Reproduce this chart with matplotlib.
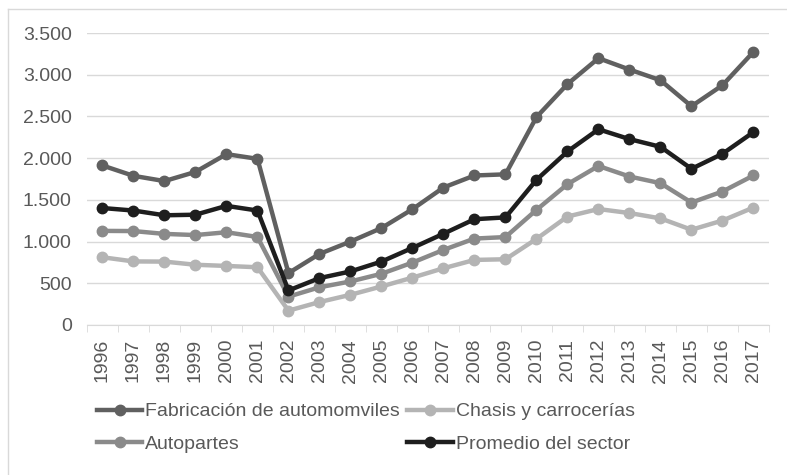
import matplotlib.pyplot as plt
from matplotlib.lines import Line2D

plt.rcParams['font.family'] = ['Liberation Sans', 'DejaVu Sans']

years = [str(y) for y in range(1996, 2018)]

fabricacion = [1912, 1788, 1725, 1835, 2048, 1992, 622, 852, 1000, 1162, 1388, 1648, 1792, 1806,
               2492, 2888, 3198, 3062, 2934, 2622, 2874, 3274]
chasis = [812, 762, 760, 722, 708, 692, 172, 275, 362, 462, 568, 680, 780, 788,
          1032, 1300, 1390, 1342, 1278, 1142, 1252, 1408]
autopartes = [1128, 1126, 1092, 1078, 1112, 1055, 340, 452, 522, 614, 748, 900, 1036, 1054,
              1380, 1688, 1906, 1780, 1700, 1468, 1600, 1792]
promedio = [1402, 1372, 1315, 1322, 1428, 1372, 414, 562, 642, 760, 924, 1094, 1268, 1290,
            1740, 2080, 2346, 2228, 2136, 1872, 2052, 2312]

fig = plt.figure(figsize=(7.87, 4.75), dpi=100)
ax = fig.add_axes([0.1105, 0.3158, 0.8666, 0.6147])

series = [
    ('Fabricación de automomviles', fabricacion, '#606060'),
    ('Chasis y carrocerías', chasis, '#b4b4b4'),
    ('Autopartes', autopartes, '#8a8a8a'),
    ('Promedio del sector', promedio, '#1e1e1e'),
]
x = list(range(len(years)))
handles = {}
for name, vals, col in series:
    ln, = ax.plot(x, vals, color=col, linewidth=3.2, marker='o', markersize=7.5, label=name)
    handles[name] = ln

ax.set_ylim(0, 3500)
ax.set_xlim(-0.5, len(years) - 0.5)
ax.set_yticks(range(0, 3501, 500))
ax.set_yticklabels(['0', '500', '1.000', '1.500', '2.000', '2.500', '3.000', '3.500'])
ax.grid(axis='y', color='#d9d9d9', linewidth=1)
ax.set_axisbelow(True)

ax.set_xticks(x)
ax.set_xticklabels(years, rotation=90)
ax.set_xticks([i - 0.5 for i in range(len(years) + 1)], minor=True)
ax.tick_params(axis='x', which='major', length=0, pad=10, labelsize=14, labelcolor='#595959')
ax.tick_params(axis='x', which='minor', length=5, color='#d9d9d9')
ax.tick_params(axis='y', length=0, labelsize=14, labelcolor='#595959', pad=11)

for s in ['top', 'right', 'left']:
    ax.spines[s].set_visible(False)
ax.spines['bottom'].set_color('#d9d9d9')

# column-major fill -> rows: Fab | Chasis, Autopartes | Promedio
order = ['Fabricación de automomviles', 'Autopartes', 'Chasis y carrocerías', 'Promedio del sector']
fig.legend([handles[n] for n in order], order, loc='upper left', bbox_to_anchor=(0.123, 0.152),
           ncol=2, frameon=False, fontsize=14, handlelength=2.35, handletextpad=0.15,
           columnspacing=0.35, labelspacing=0.75, borderpad=0, borderaxespad=0,
           labelcolor='#595959')

# chart border (left and top edges visible in the reference)
fig.add_artist(Line2D([0.0105, 0.0105], [0, 0.981], transform=fig.transFigure,
                      color='#d9d9d9', linewidth=1))
fig.add_artist(Line2D([0.0105, 1], [0.981, 0.981], transform=fig.transFigure,
                      color='#d9d9d9', linewidth=1))

fig.savefig('out.png', dpi=100)
